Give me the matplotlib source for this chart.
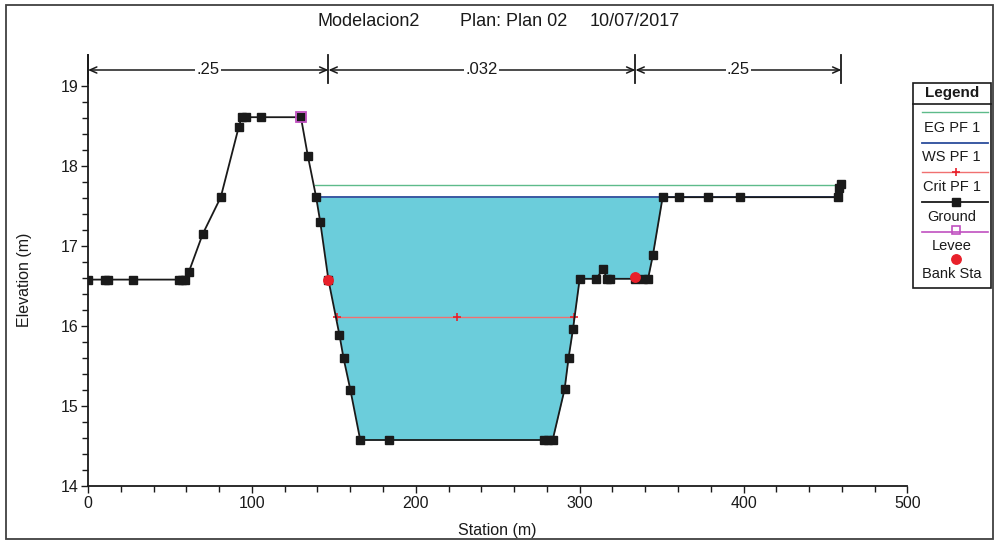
import numpy as np
import matplotlib
matplotlib.use("Agg")
import matplotlib.pyplot as plt
from matplotlib.patches import Rectangle

plt.rcParams['font.family'] = ['Liberation Sans', 'DejaVu Sans']

# Cross-section ground profile
station = [0, 10.4, 12.4, 27.7, 55.6, 57.2, 59.2, 61.6, 70.0, 81.0, 92.0, 93.8,
           96.3, 105.4, 129.9, 134.1, 139.2, 141.7, 146.7, 153.4, 155.9, 160.1,
           166.1, 183.8, 278.0, 280.8, 283.5, 290.8, 293.2, 295.9, 300.0, 310.1,
           314.2, 316.7, 318.7, 334.0, 338.6, 341.7, 344.7, 350.6, 360.8, 378.3,
           397.6, 457.5, 458.1, 459.7]
elevation = [16.58, 16.58, 16.58, 16.58, 16.58, 16.58, 16.58, 16.68, 17.15, 17.61,
             18.49, 18.61, 18.61, 18.61, 18.61, 18.13, 17.61, 17.30, 16.575, 15.89,
             15.60, 15.20, 14.575, 14.575, 14.575, 14.575, 14.575, 15.21, 15.60,
             15.96, 16.59, 16.59, 16.71, 16.59, 16.59, 16.59, 16.59, 16.59, 16.89,
             17.61, 17.61, 17.61, 17.61, 17.61, 17.72, 17.78]

# Water surfaces (PF 1)
eg_elev = 17.76
eg_station = [138.6, 459.7]
ws_elev = 17.61
ws_station = [139.2, 459.7]
crit_elev = 16.11
crit_station = [152.0, 225.3, 296.7]

# Levee and bank stations
levee_station = [129.9]
levee_elev = [18.61]
bank_station = [146.7, 334.0]
bank_elev = [16.575, 16.61]

# Manning's n regions
n_values = [".25", ".032", ".25"]
n_breaks = [0, 146.7, 334.0, 459.7]
n_level = 19.2

W, H = 995, 541
fig = plt.figure(figsize=(W / 100, H / 100), dpi=100)
ax = fig.add_axes([88 / W, 1 - 486 / H, (907.5 - 88) / W, (486 - 55) / H])

ink = '#1a1a1a'
fill_c = '#6BCDDB'
eg_c = '#5DBB8A'
ws_c = '#2B4C9B'
crit_c = '#F07070'
levee_c = '#C050C0'
bank_c = '#E8202A'

st = np.array(station)
el = np.array(elevation)
mask = (st >= ws_station[0]) & (st <= 350.6)
xs = np.concatenate([[ws_station[0]], st[mask]])
ys = np.concatenate([[ws_elev], el[mask]])
ax.fill_between(xs, ys, ws_elev, color=fill_c, lw=0, zorder=1)

ax.plot(eg_station, [eg_elev] * 2, color=eg_c, lw=1.0, zorder=2)
ax.plot(ws_station, [ws_elev] * 2, color=ws_c, lw=1.3, zorder=2)
ax.plot(crit_station, [crit_elev] * 3, color=crit_c, lw=1.0, zorder=2,
        marker='+', mec='#E8202A', ms=6, mew=1.2)
ax.plot(station, elevation, color=ink, lw=1.3, marker='s', ms=5.2,
        mfc=ink, mec=ink, zorder=3)
ax.plot(levee_station, levee_elev, ls='none', marker='s', ms=6.5, mfc='none',
        mec=levee_c, mew=1.3, zorder=4)
ax.plot(bank_station, bank_elev, ls='none', marker='o', ms=6.8, color=bank_c, zorder=5)

# Manning's n annotation
for b in n_breaks:
    ax.plot([b, b], [19.04, 19.39], color=ink, lw=1.3, clip_on=False, zorder=3)
for i, lab in enumerate(n_values):
    a, b = n_breaks[i], n_breaks[i + 1]
    ax.annotate('', xy=(a, n_level), xytext=(b, n_level),
                arrowprops=dict(arrowstyle='<->,head_length=0.5,head_width=0.22',
                                color=ink, lw=1.1, shrinkA=0, shrinkB=0),
                annotation_clip=False)
    ax.text((a + b) / 2, n_level, lab, ha='center', va='center', fontsize=12,
            color=ink, bbox=dict(fc='white', ec='none', pad=1.0), zorder=4)

ax.set_xlim(0, 500)
ax.set_ylim(14, 14 + 431 / 80)
ax.set_xticks(np.arange(0, 501, 100))
ax.set_xticks(np.arange(0, 501, 20), minor=True)
ax.set_yticks(np.arange(14, 19.01, 1))
ax.set_yticks(np.arange(14, 19.01, 0.2), minor=True)
ax.tick_params(axis='both', which='major', length=5, width=1, labelsize=11.5,
               colors=ink, pad=2)
ax.tick_params(axis='both', which='minor', length=4, width=1, colors=ink)
for s in ['top', 'right']:
    ax.spines[s].set_visible(False)
for s in ['left', 'bottom']:
    ax.spines[s].set_linewidth(1.3)
    ax.spines[s].set_color(ink)
ax.set_xlabel('Station (m)', fontsize=11.5, color=ink)
ax.set_ylabel('Elevation (m)', fontsize=11.5, color=ink)
ax.xaxis.set_label_coords(0.5, -0.085)
ax.yaxis.set_label_coords(-0.068, 0.478)

# Title
ty = 1 - 22 / H
fig.text(318 / W, ty, 'Modelacion2', ha='left', va='center', fontsize=13, color=ink)
fig.text(460 / W, ty, 'Plan: Plan 02', ha='left', va='center', fontsize=13, color=ink)
fig.text(590 / W, ty, '10/07/2017', ha='left', va='center', fontsize=13, color=ink)

# Overlay in pixel coordinates for frame and legend box
ov = fig.add_axes([0, 0, 1, 1], zorder=10)
ov.set_xlim(0, W)
ov.set_ylim(H, 0)
ov.axis('off')
ov.patch.set_alpha(0)
ov.add_patch(Rectangle((6, 5), 987, 534, fill=False, ec='#404040', lw=1.3))

lx0, lx1 = 912.5, 991
ov.add_patch(Rectangle((lx0, 82.5), lx1 - lx0, 205, fill=False, ec=ink, lw=1.2))
ov.plot([lx0, lx1], [104, 104], color=ink, lw=1.2)
ov.text((lx0 + lx1) / 2, 93.5, 'Legend', ha='center', va='center', fontsize=11,
        fontweight='bold', color=ink)
cx = (lx0 + lx1) / 2
sx0, sx1 = 921.5, 987.5
lfs = 10.5
ov.plot([sx0, sx1], [112.3, 112.3], color=eg_c, lw=1.0)
ov.text(cx, 128.3, 'EG PF 1', ha='center', va='center', fontsize=lfs, color=ink)
ov.plot([sx0, sx1], [143.3, 143.3], color=ws_c, lw=1.3)
ov.text(cx, 157.3, 'WS PF 1', ha='center', va='center', fontsize=lfs, color=ink)
ov.plot([sx0, sx1], [171.5, 171.5], color=crit_c, lw=1.0)
ov.plot([956], [171.5], marker='+', color='#E8202A', ms=6, mew=1.2)
ov.text(cx, 186.7, 'Crit PF 1', ha='center', va='center', fontsize=lfs, color=ink)
ov.plot([sx0, sx1], [201.7, 201.7], color=ink, lw=1.3)
ov.plot([956], [201.7], marker='s', color=ink, ms=5.2)
ov.text(cx, 216.7, 'Ground', ha='center', va='center', fontsize=lfs, color=ink)
ov.plot([sx0, sx1], [231.7, 231.7], color=levee_c, lw=1.2)
ov.plot([956], [229.5], marker='s', mfc='none', mec=levee_c, ms=6, mew=1.2)
ov.text(cx, 245.7, 'Levee', ha='center', va='center', fontsize=lfs, color=ink)
ov.plot([956], [259.3], marker='o', color=bank_c, ms=6.8)
ov.text(cx, 274, 'Bank Sta', ha='center', va='center', fontsize=lfs, color=ink)

fig.savefig('out.png', dpi=100)
